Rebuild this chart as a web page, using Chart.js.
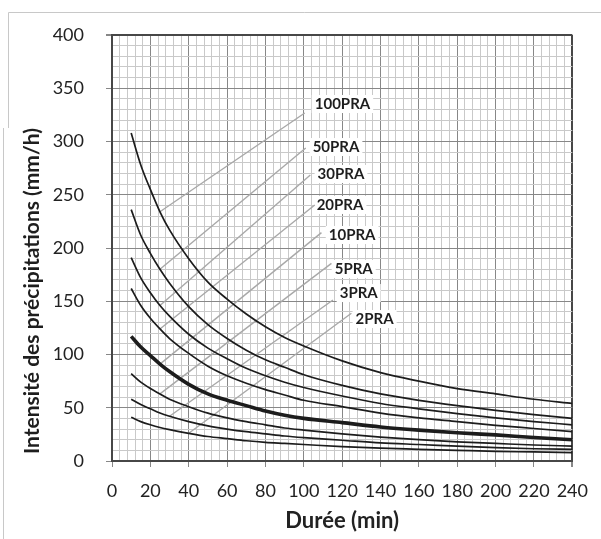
<!DOCTYPE html>
<html>
<head>
<meta charset="utf-8">
<script src="https://cdn.jsdelivr.net/npm/chart.js@4/dist/chart.umd.min.js"></script>
<style>
  html, body { margin: 0; padding: 0; background: #fff; }
  #wrap { width: 601px; height: 539px; position: relative; }
</style>
</head>
<body>
<div id="wrap"><canvas id="c" width="601" height="539"></canvas></div>
<script>
// ---- Data ----
const durations = [10, 15, 20, 25, 30, 40, 50, 60, 70, 80, 90, 100, 120, 140, 160, 180, 200, 220, 240];
const pra100 = [308, 278, 255, 234, 217, 190, 168, 152, 138, 126, 116, 108, 94, 83, 75, 68, 63, 58, 54];
const pra50  = [236, 212, 195, 180, 167, 145, 128, 115, 104, 95, 88, 81, 71, 63, 57, 52, 47.5, 43.5, 40];
const pra30  = [191, 172, 158, 146, 136, 119, 106, 96, 87, 80, 74, 69, 61, 54, 49, 44.5, 40.5, 37, 34];
const pra20  = [162, 146, 134, 124, 115, 101, 89, 80, 73, 67, 62, 57, 51, 45, 40.5, 37, 33.5, 30.5, 27.5];
const pra10  = [117, 107, 99, 91, 84, 72, 63, 57, 52, 47, 43, 40, 36, 32, 29, 26.5, 24.5, 22, 20];
const pra5   = [82, 74, 68, 63, 58, 51, 45, 40.5, 37, 34, 31, 29, 25.5, 22.5, 20, 18, 16.5, 15, 14];
const pra3   = [58, 53, 49, 45, 42, 37, 33, 30, 27.5, 25.5, 23.5, 22, 19.5, 17, 15.5, 14, 12.5, 11.5, 11];
const pra2   = [41, 37, 34, 31.5, 29.5, 26, 23, 21, 19, 17.5, 16.5, 15.5, 13.5, 12, 11, 10, 9, 8.5, 7.8];
const seriesNames = ['100PRA', '50PRA', '30PRA', '20PRA', '10PRA', '5PRA', '3PRA', '2PRA'];
const seriesValues = [pra100, pra50, pra30, pra20, pra10, pra5, pra3, pra2];
const xTickLabels = [0, 20, 40, 60, 80, 100, 120, 140, 160, 180, 200, 220, 240];
const yTickLabels = [0, 50, 100, 150, 200, 250, 300, 350, 400];

// ---- Annotation layout (label anchors in data units, leader join on each curve) ----
const labelAnchor = {
  textX:   [105.7, 104.6, 107.2, 106.7, 113, 116.1, 118.7, 127],
  textY:   [335.2, 294.8, 269.5, 240.4, 212.2, 180.3, 157.7, 133.3],
  leadX:   [100.5, 101, 103.4, 105.7, 109.2, 114.4, 115.2, 124.8],
  leadY:   [326.8, 293.9, 268.5, 240.4, 214.4, 185.6, 151.2, 138.7],
  curveIdx:[3, 3, 3, 3, 3, 3, 4, 5]
};

const FONT = 'Lato, "Open Sans", sans-serif';
const curveColor = '#1c1c1c';

const datasets = [];
seriesNames.forEach((name, i) => {
  const vals = seriesValues[i];
  datasets.push({
    label: name,
    data: durations.map((d, k) => ({ x: d, y: vals[k] })),
    borderColor: curveColor,
    borderWidth: name === '10PRA' ? 3.6 : 1.7,
    pointRadius: 0,
    cubicInterpolationMode: 'monotone',
    fill: false,
    order: 1
  });
});
seriesNames.forEach((name, i) => {
  const vals = seriesValues[i];
  const k = labelAnchor.curveIdx[i];
  datasets.push({
    label: name + ' leader',
    data: [{ x: durations[k], y: vals[k] }, { x: labelAnchor.leadX[i], y: labelAnchor.leadY[i] }],
    borderColor: '#a8a8a8',
    borderWidth: 1.4,
    pointRadius: 0,
    tension: 0,
    fill: false,
    order: 2
  });
});

const decor = {
  id: 'decor',
  beforeDraw(chart) {
    const ctx = chart.ctx;
    ctx.save();
    ctx.fillStyle = '#fff';
    ctx.fillRect(0, 0, chart.width, chart.height);
    ctx.strokeStyle = '#c8c8c8';
    ctx.lineWidth = 1;
    ctx.beginPath();
    ctx.moveTo(8.5, 128); ctx.lineTo(8.5, 12.5); ctx.lineTo(601, 12.5);
    ctx.moveTo(3.5, 128); ctx.lineTo(3.5, 539);
    ctx.stroke();
    ctx.restore();
  },
  beforeDatasetsDraw(chart) {
    const ctx = chart.ctx;
    const xs = chart.scales.x, ys = chart.scales.y;
    ctx.save();
    ctx.font = 'bold 15px ' + FONT;
    seriesNames.forEach((name, i) => {
      const px = xs.getPixelForValue(labelAnchor.textX[i]);
      const py = ys.getPixelForValue(labelAnchor.textY[i]);
      const w = ctx.measureText(name).width;
      ctx.fillStyle = '#fff';
      ctx.fillRect(px - 3, py - 9, w + 6, 18);
    });
    ctx.restore();
  },
  afterDatasetsDraw(chart) {
    const ctx = chart.ctx;
    const xs = chart.scales.x, ys = chart.scales.y;
    ctx.save();
    ctx.font = 'bold 15px ' + FONT;
    ctx.fillStyle = '#1e1e1e';
    ctx.textAlign = 'left';
    ctx.textBaseline = 'middle';
    seriesNames.forEach((name, i) => {
      const px = xs.getPixelForValue(labelAnchor.textX[i]);
      const py = ys.getPixelForValue(labelAnchor.textY[i]);
      ctx.fillText(name, px, py);
    });
    // y axis title
    ctx.translate(32, 291);
    ctx.rotate(-Math.PI / 2);
    ctx.font = 'bold 21px ' + FONT;
    ctx.textAlign = 'center';
    ctx.fillText('Intensité des précipitations (mm/h)', 0, 0);
    ctx.restore();
  }
};

function gridStyle(majorStep, maxVal) {
  return {
    color: (c) => {
      const v = c.tick ? c.tick.value : null;
      if (v === maxVal) return '#474747';
      if (v !== null && v % majorStep === 0) return '#878787';
      return '#c9c9c9';
    },
    lineWidth: (c) => {
      const v = c.tick ? c.tick.value : null;
      if (v === maxVal) return 2;
      return 1;
    },
    tickColor: (c) => {
      const v = c.tick ? c.tick.value : null;
      return (v !== null && v % majorStep === 0) ? '#878787' : 'rgba(0,0,0,0)';
    },
    tickLength: 6,
    drawTicks: true
  };
}

new Chart(document.getElementById('c'), {
  type: 'line',
  data: { datasets },
  plugins: [decor],
  options: {
    responsive: false,
    animation: false,
    events: [],
    layout: { padding: { left: 0, right: 28, top: 35, bottom: 0 } },
    plugins: { legend: { display: false }, tooltip: { enabled: false }, title: { display: false } },
    scales: {
      x: {
        type: 'linear',
        min: 0, max: 240,
        afterFit: (s) => { s.height = 78; },
        ticks: {
          stepSize: 4,
          autoSkip: false,
          maxRotation: 0, minRotation: 0,
          padding: 13,
          color: '#222',
          font: { family: FONT, size: 18 },
          callback: (v) => xTickLabels.includes(v) ? String(v) : ''
        },
        grid: gridStyle(20, 240),
        border: { display: true, color: '#474747', width: 2 },
        title: {
          display: true,
          text: 'Durée (min)',
          color: '#222',
          font: { family: FONT, size: 22, weight: 'bold' },
          padding: { top: 0, bottom: 5 }
        }
      },
      y: {
        type: 'linear',
        min: 0, max: 400,
        afterFit: (s) => { s.width = 112; },
        ticks: {
          stepSize: 10,
          autoSkip: false,
          padding: 22,
          color: '#222',
          font: { family: FONT, size: 18 },
          callback: (v) => yTickLabels.includes(v) ? String(v) : ''
        },
        grid: gridStyle(50, 400),
        border: { display: true, color: '#474747', width: 2 }
      }
    }
  }
});
</script>
</body>
</html>
